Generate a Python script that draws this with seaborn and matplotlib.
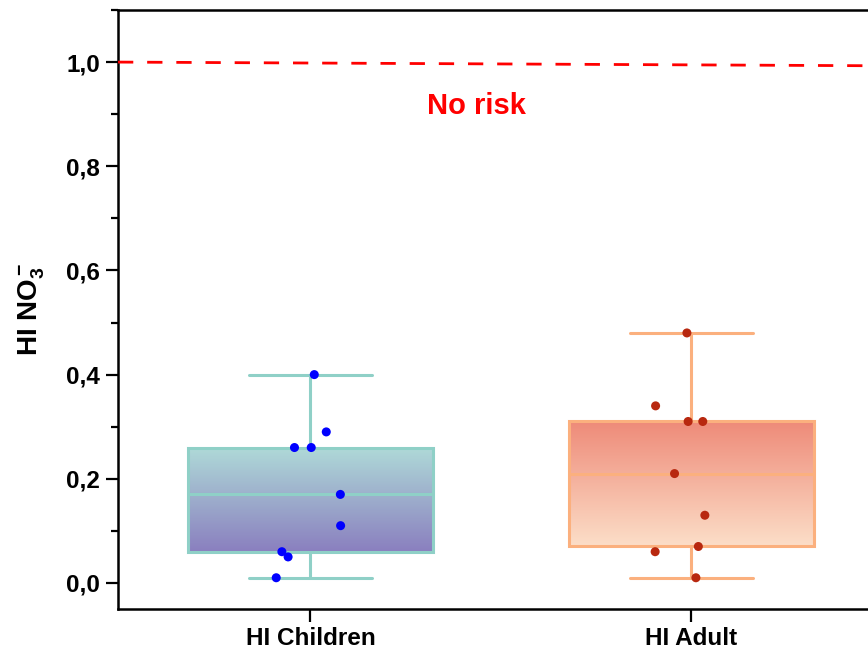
import numpy as np
import pandas as pd
import matplotlib
matplotlib.use("Agg")
import matplotlib.pyplot as plt
import seaborn as sns
from matplotlib.colors import LinearSegmentedColormap
from matplotlib.ticker import FixedLocator, MultipleLocator

# ---- data ----
categories = ["HI Children", "HI Adult"]
children_values = [0.40, 0.29, 0.26, 0.26, 0.17, 0.11, 0.06, 0.05, 0.01]
adult_values = [0.48, 0.34, 0.31, 0.31, 0.21, 0.13, 0.07, 0.06, 0.01]
risk_line_values = [1.0, 0.993]
ytick_values = [0.0, 0.2, 0.4, 0.6, 0.8, 1.0]
ytick_labels = ["0,0", "0,2", "0,4", "0,6", "0,8", "1,0"]
risk_label = "No risk"

# ---- styles ----
edge_colors = ["#8fd0c7", "#fbb07e"]
point_colors = ["#0000ff", "#b8280f"]
gradients = [("#8a7fbf", "#afdad8"), ("#fcdec8", "#ee8a78")]  # (bottom, top)

sns.set_theme(style="white")
plt.rcParams["font.family"] = ["Liberation Sans", "DejaVu Sans"]
plt.rcParams["mathtext.fontset"] = "custom"
plt.rcParams["mathtext.rm"] = "Liberation Sans:bold"
plt.rcParams["mathtext.bf"] = "Liberation Sans:bold"
plt.rcParams["mathtext.it"] = "Liberation Sans:bold"
plt.rcParams["text.color"] = "black"
plt.rcParams["axes.labelcolor"] = "black"
plt.rcParams["xtick.color"] = "black"
plt.rcParams["ytick.color"] = "black"

df = pd.DataFrame({
    "group": [categories[0]] * len(children_values) + [categories[1]] * len(adult_values),
    "value": children_values + adult_values,
})

fig = plt.figure(figsize=(8.68, 6.5), dpi=100)
ax = fig.add_axes([118 / 868, 1 - 609 / 650, 1 - 118 / 868 + 0.002, (609 - 10) / 650])

for cat, edge in zip(categories, edge_colors):
    sns.boxplot(data=df[df.group == cat], x="group", y="value", order=categories,
                width=0.645, whis=np.inf, color="white", linecolor=edge,
                linewidth=2.2, showfliers=False, ax=ax)

xlim = (-0.505, 1.468)
ylim = (-0.05, 1.1)
ax.set_xlim(*xlim)
ax.set_ylim(*ylim)

# gradient fills clipped to each box
box_patches = list(ax.patches)
for patch, (c_bot, c_top) in zip(box_patches, gradients):
    bb = patch.get_extents().transformed(ax.transData.inverted())
    cmap = LinearSegmentedColormap.from_list("g", [c_bot, c_top])
    grad = np.linspace(0, 1, 256).reshape(-1, 1)
    im = ax.imshow(grad, cmap=cmap, extent=[bb.x0, bb.x1, bb.y0, bb.y1],
                   origin="lower", aspect="auto", interpolation="bicubic", zorder=1.5)
    im.set_clip_path(patch)
    patch.set_facecolor("none")

np.random.seed(3)
sns.stripplot(data=df, x="group", y="value", hue="group", order=categories,
              palette=point_colors, jitter=0.1, size=6.5, legend=False,
              zorder=5, ax=ax)

ax.set_xlim(*xlim)
ax.set_ylim(*ylim)

# risk line
ax.plot(list(xlim), risk_line_values, color="#ff0000", linestyle=(0, (5.5, 5)),
        linewidth=2.0, zorder=4)
ax.text(0.437, 0.915, risk_label, color="#ff0000", fontsize=21,
        fontweight="bold", ha="center", va="center")

# axes styling
for side in ["left", "bottom", "top"]:
    ax.spines[side].set_visible(True)
    ax.spines[side].set_linewidth(1.8)
    ax.spines[side].set_color("black")
ax.spines["right"].set_visible(False)

ax.yaxis.set_major_locator(FixedLocator(ytick_values))
ax.set_yticklabels(ytick_labels)
ax.yaxis.set_minor_locator(MultipleLocator(0.1))
ax.tick_params(axis="y", which="major", direction="out", length=9, width=1.6,
               left=True, labelsize=17.5, pad=4, colors="black")
ax.tick_params(axis="y", which="minor", direction="out", length=5, width=1.6,
               left=True, colors="black")
ax.tick_params(axis="x", which="major", direction="out", length=9, width=1.6,
               bottom=True, labelsize=17.5, pad=4, colors="black")
for lbl in ax.get_xticklabels() + ax.get_yticklabels():
    lbl.set_fontweight("bold")

ax.set_xlabel("")
ax.set_ylabel(r"HI NO$_3^-$", fontsize=20, fontweight="bold", labelpad=14, color="black")

fig.savefig("out.png", dpi=100)
